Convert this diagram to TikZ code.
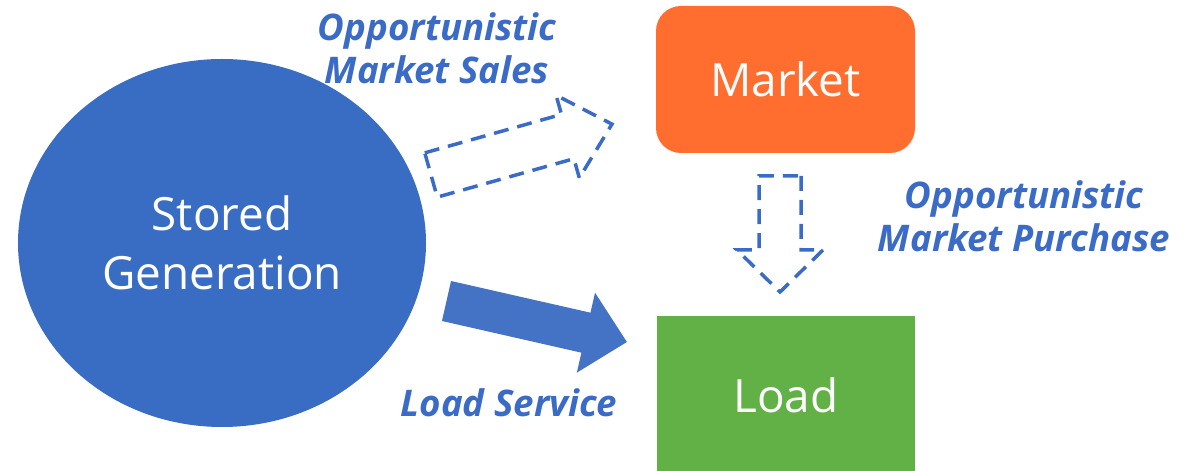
\documentclass[tikz,border=0pt]{standalone}
\usepackage{fontspec}
\setmainfont{Open Sans}
\usetikzlibrary{shapes.geometric}

\definecolor{genblue}{HTML}{396DC4}
\definecolor{flowblue}{HTML}{4472C4}
\definecolor{labelblue}{HTML}{3A6BC6}
\definecolor{marketorange}{HTML}{FF6D2F}
\definecolor{loadgreen}{HTML}{62B147}

\tikzset{
  % block arrow along +x: shaft half width, head half width, head length, total length
  blockarrow/.style n args={4}{insert path={(0,-#1) -- ({#4-#3},-#1) -- ({#4-#3},-#2)
      -- (#4,0) -- ({#4-#3},#2) -- ({#4-#3},#1) -- (0,#1) -- cycle}},
  dashedflow/.style={draw=labelblue, line width=3.5bp, dash pattern=on 15bp off 9bp},
  flowlabel/.style={text=labelblue, align=center,
    font=\fontsize{36.8}{43}\selectfont\bfseries\itshape},
  box/.style={text=white, align=center, inner sep=0pt,
    font=\fontsize{46}{59}\selectfont},
}

\begin{document}
\begin{tikzpicture}[x=1bp,y=-1bp]
  \useasboundingbox (0,0) rectangle (1193,471);
  % Storage, market and load
  \node[box, ellipse, fill=genblue, minimum width=408bp, minimum height=368bp]
    (gen) at (222,243) {Stored\\Generation};
  \node[box, fill=marketorange, rounded corners=25bp, minimum width=259bp,
    minimum height=147bp] (market) at (785.5,79.5) {Market};
  \node[box, fill=loadgreen, minimum width=258bp, minimum height=159bp]
    (load) at (786,395.5) {Load};
  % Dashed flows
  \draw[dashedflow, shift={(431,175)}, rotate=15.7, blockarrow={23}{43}{46}{188}];
  \draw[dashedflow, shift={(780,176)}, rotate=-90, blockarrow={21}{43}{42}{116}];
  % Solid flow to load
  \fill[flowblue, shift={(446.5,301)}, rotate=-12.8, blockarrow={20.5}{41}{42}{185}];
  % Labels
  \node[flowlabel] (saleslabel) at (437,48) {Opportunistic\\Market Sales};
  \node[flowlabel] (purchaselabel) at (1024,216) {Opportunistic\\Market Purchase};
  \node[flowlabel, anchor=base] (servicelabel) at (509,417) {Load Service};
\end{tikzpicture}
\end{document}
